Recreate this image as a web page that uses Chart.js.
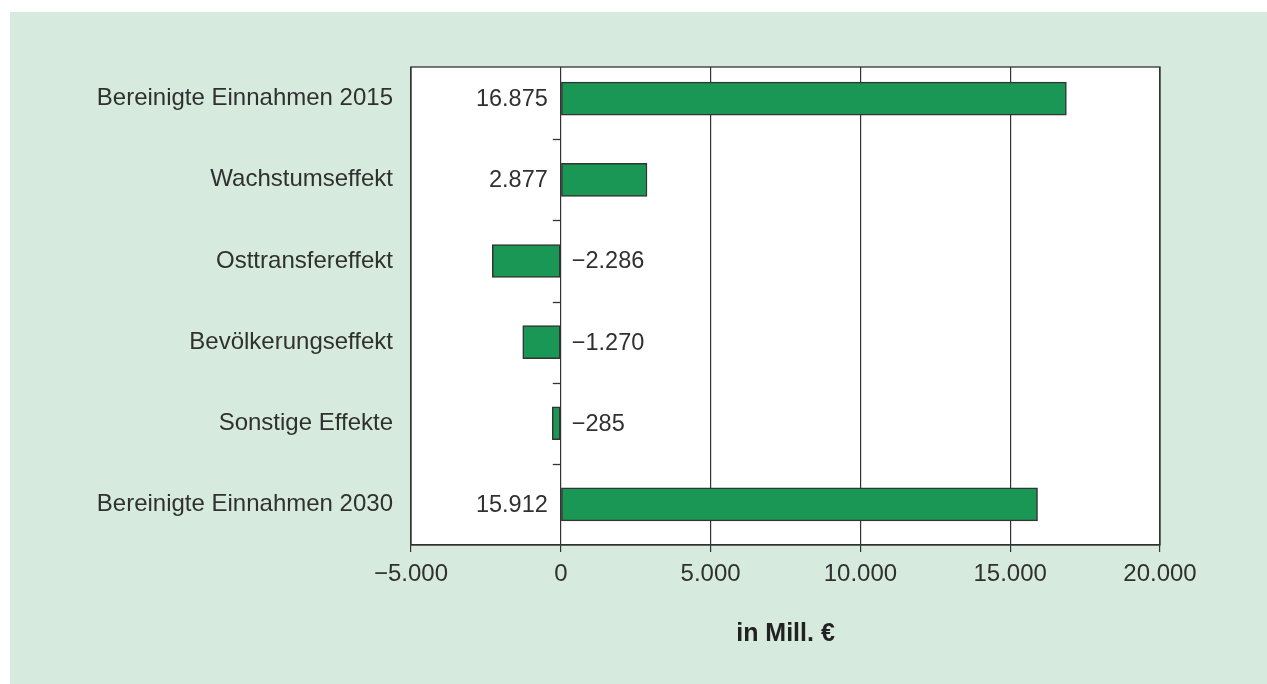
<!DOCTYPE html>
<html>
<head>
<meta charset="utf-8">
<script src="https://cdn.jsdelivr.net/npm/chart.js@4/dist/chart.umd.min.js"></script>
<style>
  html, body { margin: 0; padding: 0; background: #fff; }
  #panel { position: absolute; left: 10px; top: 12px; width: 1257px; height: 672px; background: #d6ebdd; }
  canvas { display: block; }
</style>
</head>
<body>
<div id="panel"><canvas id="chart" width="1257" height="672"></canvas></div>
<script>
// Einnahmen-Zerlegung, Werte in Mill. Euro
var categories = ['Bereinigte Einnahmen 2015', 'Wachstumseffekt', 'Osttransfereffekt', 'Bevölkerungseffekt', 'Sonstige Effekte', 'Bereinigte Einnahmen 2030'];
var values = [16875, 2877, -2286, -1270, -285, 15912];
var xTicks = [-5000, 0, 5000, 10000, 15000, 20000];
var axisTitle = 'in Mill. €';

var FONT = '"Liberation Sans", Arial, Helvetica, sans-serif';
var INK = '#303030';

function fmt(v) {
  var s = Math.abs(v).toString().replace(/\B(?=(\d{3})+(?!\d))/g, '.');
  return (v < 0 ? '\u2212' : '') + s;
}

var points = [];
for (var i = 0; i < values.length; i++) {
  points.push({ x: values[i], y: i });
}

var frame = {
  id: 'frame',
  beforeDraw: function (chart) {
    var a = chart.chartArea, ctx = chart.ctx;
    ctx.save();
    ctx.fillStyle = '#ffffff';
    ctx.fillRect(a.left, a.top, a.right - a.left, a.bottom - a.top);
    ctx.restore();
  },
  afterDatasetsDraw: function (chart) {
    var a = chart.chartArea, ctx = chart.ctx;
    var xs = chart.scales.x, ys = chart.scales.y;
    var x0 = xs.getPixelForValue(0);
    ctx.save();
    ctx.strokeStyle = '#333';
    ctx.lineWidth = 1.3;
    ctx.strokeRect(a.left, a.top, a.right - a.left, a.bottom - a.top);
    // kleine Striche zwischen den Kategorien an der Nulllinie
    for (var k = 0; k < categories.length - 1; k++) {
      var yy = Math.round(ys.getPixelForValue(k + 0.5)) + 0.5;
      ctx.beginPath();
      ctx.moveTo(x0 - 8, yy);
      ctx.lineTo(x0, yy);
      ctx.stroke();
    }
    // Wertbeschriftung
    ctx.font = '23.5px ' + FONT;
    ctx.fillStyle = INK;
    ctx.textBaseline = 'middle';
    var meta = chart.getDatasetMeta(0);
    meta.data.forEach(function (bar, j) {
      var v = values[j];
      if (v >= 0) {
        ctx.textAlign = 'right';
        ctx.fillText(fmt(v), x0 - 13, bar.y + 1);
      } else {
        ctx.textAlign = 'left';
        ctx.fillText(fmt(v), x0 + 11, bar.y + 1);
      }
    });
    ctx.restore();
  }
};

new Chart(document.getElementById('chart'), {
  type: 'bar',
  data: {
    datasets: [{
      data: points,
      backgroundColor: '#1a9655',
      borderColor: '#333333',
      borderWidth: 1.5,
      borderSkipped: false,
      barThickness: 33
    }]
  },
  options: {
    indexAxis: 'y',
    responsive: false,
    animation: false,
    layout: { padding: { top: 55, right: 107, left: 0, bottom: 0 } },
    plugins: { legend: { display: false }, tooltip: { enabled: false } },
    scales: {
      x: {
        type: 'linear',
        min: -5000,
        max: 20000,
        afterBuildTicks: function (s) { s.ticks = xTicks.map(function (v) { return { value: v }; }); },
        afterFit: function (s) { s.height = 139; },
        grid: { color: '#333', lineWidth: 1.2, tickLength: 7 },
        border: { color: '#333', width: 1.3 },
        ticks: {
          padding: 8,
          color: INK,
          font: { family: FONT, size: 24 },
          callback: function (v) { return fmt(v); }
        },
        title: {
          display: true,
          text: axisTitle,
          color: '#222',
          font: { family: FONT, size: 25, weight: 'bold' },
          padding: { top: 0, bottom: 35 }
        }
      },
      y: {
        type: 'linear',
        reverse: true,
        offset: false,
        min: -0.39,
        max: 5.5,
        afterBuildTicks: function (s) { s.ticks = categories.map(function (c, i) { return { value: i }; }); },
        afterFit: function (s) { s.width = 401; },
        grid: { display: false, offset: false, drawTicks: false },
        border: { display: false },
        ticks: {
          padding: 18,
          color: INK,
          font: { family: FONT, size: 24 },
          callback: function (v) { return categories[v]; }
        }
      }
    }
  },
  plugins: [frame]
});
</script>
</body>
</html>
